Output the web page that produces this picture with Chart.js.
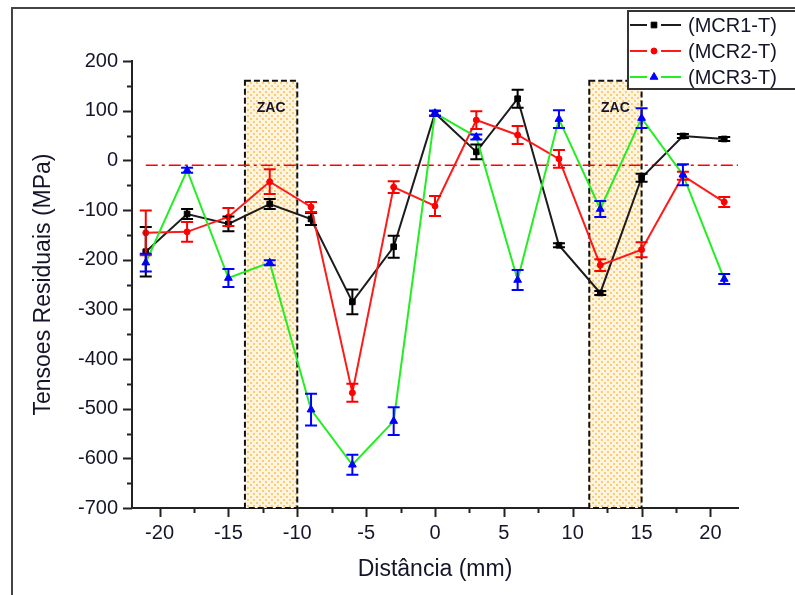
<!DOCTYPE html>
<html>
<head>
<meta charset="utf-8">
<script src="https://cdn.jsdelivr.net/npm/chart.js@4.4.1/dist/chart.umd.min.js"></script>
<style>
  html, body { margin: 0; padding: 0; background: #fff; }
</style>
</head>
<body>
<canvas id="myChart" width="795" height="595"></canvas>
<script>
// data
const distances = [-21, -18, -15, -12, -9, -6, -3, 0, 3, 6, 9, 12, 15, 18, 21];
const mcr1 = [-184, -108, -128, -88, -118, -285, -174, 95, 17, 124, -171, -267, -35, 49, 43];
const mcr1Err = [50, 10, 15, 10, 12, 25, 22, 5, 15, 18, 4, 4, 8, 4, 4];
const mcr2 = [-146, -144, -114, -43, -94, -468, -54, -92, 81, 51, 3, -211, -180, -31, -84];
const mcr2Err = [45, 20, 18, 25, 10, 18, 12, 20, 18, 18, 18, 12, 15, 8, 10];
const mcr3 = [-206, -20, -237, -206, -502, -613, -525, 95, 47, -241, 83, -98, 85, -29, -239];
const mcr3Err = [18, 5, 18, 5, 32, 20, 28, 5, 5, 20, 18, 16, 20, 21, 10];
const seriesNames = ['(MCR1-T)', '(MCR2-T)', '(MCR3-T)'];
const refLevel = -10;
const refSpan = [-21, 22];
const zacZones = [[-13.8, -10], [11.2, 15]];
const zacTop = 160;
const zacLabel = 'ZAC';
const xTicks = [-20, -15, -10, -5, 0, 5, 10, 15, 20];

const FONT = "'Liberation Sans', Arial, sans-serif";
const TXT = '#15152a';

const series = [
    { name: seriesNames[0], values: mcr1, err: mcr1Err, line: '#1c1c1c', mark: '#000000', style: 'rect', radius: 4 },
    { name: seriesNames[1], values: mcr2, err: mcr2Err, line: '#ff1a1a', mark: '#ff0000', style: 'circle', radius: 3 },
    { name: seriesNames[2], values: mcr3, err: mcr3Err, line: '#22ee22', mark: '#0000ff', style: 'triangle', radius: 4.5 }
];

// dotted orange fill of the ZAC boxes
const dotTile = document.createElement('canvas');
dotTile.width = 6; dotTile.height = 6;
(function() {
    const g = dotTile.getContext('2d');
    g.fillStyle = '#fff5de'; g.fillRect(0, 0, 6, 6);
    g.fillStyle = '#f9cc7a'; g.fillRect(1, 1, 2, 2); g.fillRect(4, 4, 2, 2);
})();

const zacPlugin = {
    id: 'zac',
    beforeDatasetsDraw(chart) {
        const {ctx, scales: {x, y}} = chart;
        zacZones.forEach(z => {
            const x0 = x.getPixelForValue(z[0]), x1 = x.getPixelForValue(z[1]);
            const y0 = y.getPixelForValue(zacTop), y1 = y.getPixelForValue(y.min);
            ctx.save();
            ctx.fillStyle = ctx.createPattern(dotTile, 'repeat');
            ctx.fillRect(x0, y0, x1 - x0, y1 - y0);
            ctx.setLineDash([6, 3]);
            ctx.lineWidth = 2;
            ctx.strokeStyle = '#111';
            ctx.strokeRect(x0, y0, x1 - x0, y1 - y0);
            ctx.setLineDash([]);
            ctx.fillStyle = TXT;
            ctx.font = 'bold 14px ' + FONT;
            ctx.textAlign = 'center';
            ctx.textBaseline = 'middle';
            ctx.fillText(zacLabel, (x0 + x1) / 2, y.getPixelForValue(105));
            ctx.restore();
        });
    }
};

const errPlugin = {
    id: 'errbars',
    afterDatasetsDraw(chart) {
        const {ctx, scales: {x, y}} = chart;
        series.forEach(s => {
            ctx.save();
            ctx.strokeStyle = s.mark;
            ctx.lineWidth = 2;
            distances.forEach((d, i) => {
                const px = x.getPixelForValue(d);
                const top = y.getPixelForValue(s.values[i] + s.err[i]);
                const bot = y.getPixelForValue(s.values[i] - s.err[i]);
                ctx.beginPath();
                ctx.moveTo(px, top); ctx.lineTo(px, bot);
                ctx.moveTo(px - 6, top); ctx.lineTo(px + 6, top);
                ctx.moveTo(px - 6, bot); ctx.lineTo(px + 6, bot);
                ctx.stroke();
            });
            ctx.restore();
        });
    }
};

const decoPlugin = {
    id: 'deco',
    afterDraw(chart) {
        const {ctx, scales: {x, y}, chartArea: a} = chart;
        ctx.save();
        ctx.strokeStyle = '#222';
        ctx.lineWidth = 2;
        // minor + major ticks, pointing outwards
        for (let v = y.min; v <= y.max; v += 50) {
            const py = Math.round(y.getPixelForValue(v)) + 0.5;
            const len = v % 100 === 0 ? 9 : 5;
            ctx.beginPath(); ctx.moveTo(a.left, py); ctx.lineTo(a.left - len, py); ctx.stroke();
        }
        for (let v = -20; v <= 20; v += 2.5) {
            const px = Math.round(x.getPixelForValue(v)) + 0.5;
            const len = v % 5 === 0 ? 9 : 5;
            ctx.beginPath(); ctx.moveTo(px, a.bottom); ctx.lineTo(px, a.bottom + len); ctx.stroke();
        }
        // outer frame (top and left)
        ctx.strokeStyle = '#444';
        ctx.beginPath(); ctx.moveTo(12, 595); ctx.lineTo(12, 8); ctx.lineTo(795, 8); ctx.stroke();
        // legend
        ctx.fillStyle = '#fff';
        ctx.fillRect(628, 11, 170, 78);
        ctx.strokeStyle = '#333';
        ctx.strokeRect(628, 11, 170, 78);
        series.forEach((s, i) => {
            const ly = 25 + i * 26;
            ctx.strokeStyle = s.line;
            ctx.lineWidth = 2;
            ctx.beginPath(); ctx.moveTo(630, ly); ctx.lineTo(647, ly); ctx.moveTo(661, ly); ctx.lineTo(681, ly); ctx.stroke();
            ctx.fillStyle = s.mark; ctx.strokeStyle = s.mark; ctx.lineWidth = 1;
            Chart.helpers.drawPoint(ctx, {pointStyle: s.style, radius: s.radius, rotation: 0, borderWidth: 1}, 654, ly);
            ctx.fillStyle = TXT;
            ctx.font = '20px ' + FONT;
            ctx.textAlign = 'left';
            ctx.textBaseline = 'middle';
            ctx.fillText(s.name, 688, ly + 1);
        });
        ctx.restore();
    }
};

const datasets = series.map((s, i) => ({
    label: s.name,
    data: distances.map((d, j) => ({x: d, y: s.values[j]})),
    borderColor: s.line,
    borderWidth: 2,
    pointStyle: s.style,
    pointRadius: s.radius,
    pointBackgroundColor: s.mark,
    pointBorderColor: s.mark,
    pointBorderWidth: 1,
    tension: 0,
    order: 3 - i
}));
datasets.push({
    label: 'ref',
    data: refSpan.map(v => ({x: v, y: refLevel})),
    borderColor: '#ff0000',
    borderWidth: 1.5,
    borderDash: [12, 4, 3, 4],
    pointRadius: 0,
    order: 10
});

const tickFont = {family: FONT, size: 20};
const titleFont = {family: FONT, size: 23};

new Chart(document.getElementById('myChart'), {
    type: 'line',
    data: {datasets: datasets},
    plugins: [zacPlugin, errPlugin, decoPlugin],
    options: {
        responsive: false,
        animation: false,
        layout: {padding: {left: 0, top: 61, right: 57, bottom: 0}},
        plugins: {legend: {display: false}, tooltip: {enabled: false}},
        scales: {
            x: {
                type: 'linear',
                min: -22, max: 22,
                afterBuildTicks: s => { s.ticks = xTicks.map(v => ({value: v})); },
                afterFit: s => { s.height = 87; },
                grid: {display: false, drawTicks: true, tickLength: 9},
                border: {display: true, color: '#222', width: 2},
                ticks: {font: tickFont, color: TXT, padding: 4, maxRotation: 0},
                title: {display: true, text: 'Distância (mm)', font: titleFont, color: TXT, padding: {top: 0, bottom: 12}}
            },
            y: {
                min: -700, max: 200,
                ticks: {stepSize: 100, font: tickFont, color: TXT, padding: 5},
                afterFit: s => { s.width = 132; },
                grid: {display: false, drawTicks: true, tickLength: 9},
                border: {display: true, color: '#222', width: 2},
                title: {display: true, text: 'Tensoes Residuais (MPa)', font: titleFont, color: TXT, padding: {top: 30, bottom: 0}}
            }
        }
    }
});
</script>
</body>
</html>
